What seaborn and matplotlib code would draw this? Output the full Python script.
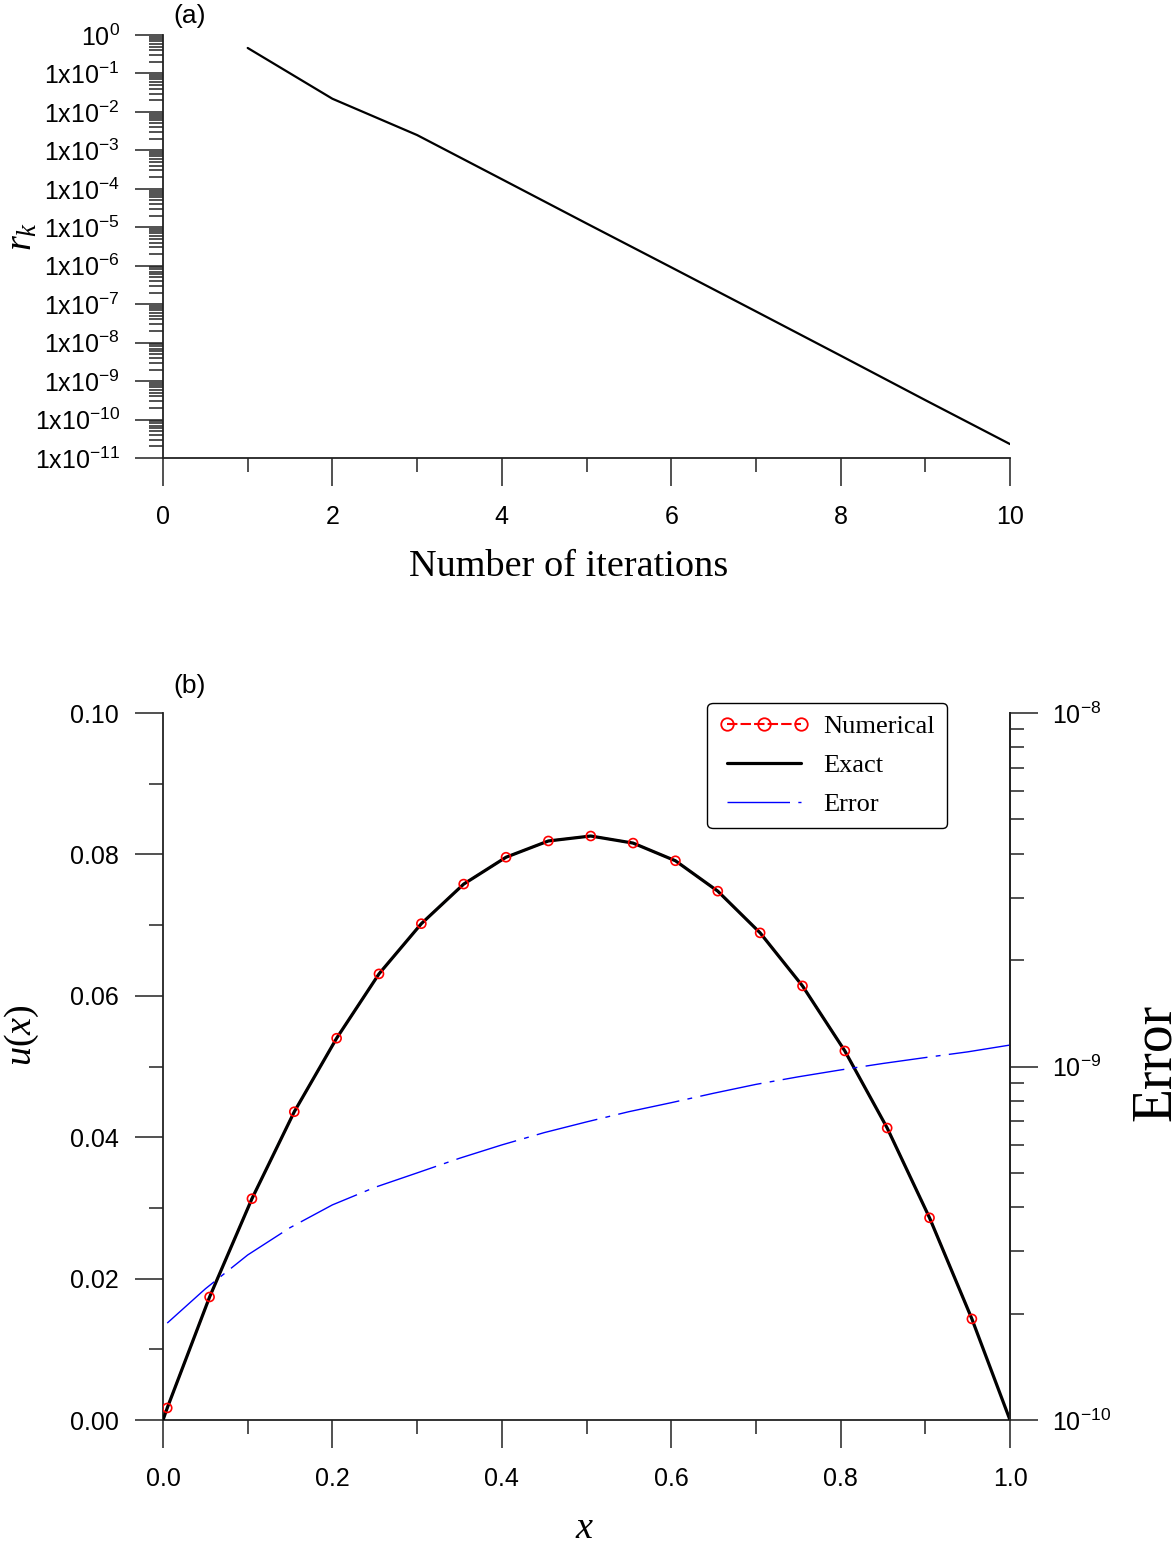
import numpy as np
import pandas as pd
import matplotlib
matplotlib.use("Agg")
import matplotlib.pyplot as plt
import seaborn as sns
from matplotlib.ticker import (LogLocator, FuncFormatter, MultipleLocator,
                               NullFormatter, FormatStrFormatter, LogFormatterSciNotation)
from matplotlib.lines import Line2D

# ---------------- data ----------------
iterations = [1, 2, 3, 4, 5, 6, 7, 8, 9, 10]
residuals = [4.6e-1, 2.2e-2, 2.5e-3, 1.78e-4, 1.26e-5, 9.1e-7, 6.5e-8, 4.6e-9, 3.2e-10, 2.3e-11]

x_num = [0.005, 0.055, 0.105, 0.155, 0.205, 0.255, 0.305, 0.355, 0.405, 0.455,
         0.505, 0.555, 0.605, 0.655, 0.705, 0.755, 0.805, 0.855, 0.905, 0.955]
u_num = [0.0017, 0.0174, 0.0313, 0.0436, 0.0540, 0.0631, 0.0702, 0.0758, 0.0796, 0.0819,
         0.0826, 0.0816, 0.0791, 0.0748, 0.0689, 0.0614, 0.0522, 0.0413, 0.0286, 0.0143]

x_exact = [0.0, 0.005, 0.055, 0.105, 0.155, 0.205, 0.255, 0.305, 0.355, 0.405, 0.455,
           0.505, 0.555, 0.605, 0.655, 0.705, 0.755, 0.805, 0.855, 0.905, 0.955, 1.0]
u_exact = [0.0, 0.0017, 0.0174, 0.0313, 0.0436, 0.0540, 0.0631, 0.0702, 0.0758, 0.0796, 0.0819,
           0.0826, 0.0816, 0.0791, 0.0748, 0.0689, 0.0614, 0.0522, 0.0413, 0.0286, 0.0143, 0.0]

x_err = [0.005, 0.05, 0.1, 0.15, 0.2, 0.25, 0.3, 0.35, 0.4, 0.45, 0.5,
         0.55, 0.6, 0.65, 0.7, 0.75, 0.8, 0.85, 0.9, 0.95, 1.0]
err = [1.88e-10, 2.35e-10, 2.93e-10, 3.5e-10, 4.06e-10, 4.55e-10, 5.0e-10, 5.5e-10, 6.0e-10,
       6.5e-10, 6.97e-10, 7.45e-10, 7.9e-10, 8.4e-10, 8.9e-10, 9.35e-10, 9.78e-10, 1.02e-9,
       1.06e-9, 1.10e-9, 1.15e-9]

# ---------------- style ----------------
sns.set_theme(style="ticks")
plt.rcParams.update({
    "font.family": ["Liberation Sans", "DejaVu Sans"],
    "text.color": "black",
    "mathtext.fontset": "custom",
    "mathtext.rm": "Liberation Serif",
    "mathtext.it": "Liberation Serif:italic",
    "mathtext.default": "regular",
    "axes.edgecolor": "#222222",
    "axes.linewidth": 1.3,
    "xtick.color": "#222222",
    "ytick.color": "#222222",
    "xtick.labelcolor": "black",
    "ytick.labelcolor": "black",
    "xtick.direction": "out",
    "ytick.direction": "out",
    "xtick.major.size": 20, "xtick.minor.size": 10,
    "ytick.major.size": 20, "ytick.minor.size": 10,
    "xtick.major.width": 1.1, "xtick.minor.width": 1.1,
    "ytick.major.width": 1.1, "ytick.minor.width": 1.1,
    "xtick.labelsize": 18, "ytick.labelsize": 18,
    "axes.unicode_minus": False,
})

W, H = 1175, 1543
fig = plt.figure(figsize=(W / 100, H / 100), dpi=100)

def fx(px):
    return px / W

def fy(py):
    return 1 - py / H

# ---------------- panel (a) ----------------
ax1 = fig.add_axes([fx(163), fy(458), fx(1010) - fx(163), fy(35) - fy(458)])
df_a = pd.DataFrame({"it": iterations, "r": residuals})
sns.lineplot(data=df_a, x="it", y="r", ax=ax1, color="black", linewidth=1.6)
ax1.set_yscale("log")
ax1.set_xlim(0, 10)
ax1.set_ylim(1e-11, 1)
ax1.xaxis.set_major_locator(MultipleLocator(2))
ax1.xaxis.set_minor_locator(MultipleLocator(1))
ax1.yaxis.set_major_locator(LogLocator(base=10, numticks=30))
ax1.yaxis.set_minor_locator(LogLocator(base=10, subs=np.arange(2, 10), numticks=200))
ax1.yaxis.set_minor_formatter(NullFormatter())

def fmt_a(v, pos):
    e = int(round(np.log10(v)))
    if e == 0:
        return r"$\mathdefault{10^{0}}$"
    return r"$\mathdefault{1x10^{%d}}$" % e

ax1.yaxis.set_major_formatter(FuncFormatter(fmt_a))
ax1.tick_params(axis="x", pad=14)
ax1.tick_params(axis="y", pad=11)
ax1.spines["top"].set_visible(False)
ax1.spines["right"].set_visible(False)
ax1.set_xlabel("")
ax1.set_ylabel("")

# ---------------- panel (b) ----------------
ax2 = fig.add_axes([fx(163), fy(1420), fx(1010) - fx(163), fy(713) - fy(1420)])
df_num = pd.DataFrame({"x": x_num, "u": u_num})
df_ex = pd.DataFrame({"x": x_exact, "u": u_exact})
df_err = pd.DataFrame({"x": x_err, "e": err})

sns.lineplot(data=df_num, x="x", y="u", ax=ax2, color="red", linewidth=1.5,
             linestyle="--", zorder=2)
sns.lineplot(data=df_ex, x="x", y="u", ax=ax2, color="black", linewidth=2.3, zorder=3)
sns.scatterplot(data=df_num, x="x", y="u", ax=ax2, marker="o", s=42,
                facecolors="none", edgecolor="red", linewidth=1.2, zorder=4)
ax2.set_xlim(0, 1.0)
ax2.set_ylim(0, 0.10)
ax2.xaxis.set_major_locator(MultipleLocator(0.2))
ax2.xaxis.set_minor_locator(MultipleLocator(0.1))
ax2.yaxis.set_major_locator(MultipleLocator(0.02))
ax2.yaxis.set_minor_locator(MultipleLocator(0.01))
ax2.xaxis.set_major_formatter(FormatStrFormatter("%.1f"))
ax2.yaxis.set_major_formatter(FormatStrFormatter("%.2f"))
ax2.tick_params(axis="x", pad=14)
ax2.tick_params(axis="y", pad=12)
ax2.spines["top"].set_visible(False)
ax2.set_xlabel("")
ax2.set_ylabel("")

ax3 = ax2.twinx()
sns.lineplot(data=df_err, x="x", y="e", ax=ax3, color="#0000ff", linewidth=1.0)
for ln in ax3.get_lines():
    ln.set_dashes((45, 6, 3.5, 6))
ax3.set_yscale("log")
ax3.set_ylim(1e-10, 1e-8)
ax3.set_xlim(0, 1.0)
ax3.yaxis.set_major_locator(LogLocator(base=10, numticks=10))
ax3.yaxis.set_minor_locator(LogLocator(base=10, subs=np.arange(2, 10), numticks=100))
ax3.yaxis.set_major_formatter(LogFormatterSciNotation())
ax3.yaxis.set_minor_formatter(NullFormatter())
ax3.tick_params(axis="y", pad=10)
for s in ["top", "left", "bottom"]:
    ax3.spines[s].set_visible(False)
ax3.set_ylabel("")
ax3.set_xlabel("")

handles = [
    Line2D([], [], color="red", linestyle=(0, (5, 1.5)), linewidth=1.5, marker="o",
           markerfacecolor="none", markeredgecolor="red", markersize=9, markeredgewidth=1.3),
    Line2D([], [], color="black", linewidth=2.3),
    Line2D([], [], color="#0000ff", linewidth=1.0, dashes=(45, 6, 3.5, 6)),
]
leg = ax3.legend(handles, ["Numerical", "Exact", "Error"], loc="upper right",
                 bbox_to_anchor=(0.9256, 1.014), borderaxespad=0, numpoints=3,
                 prop={"family": "Liberation Serif", "size": 19},
                 handlelength=3.4, handletextpad=0.55, labelspacing=0.58,
                 borderpad=0.45, frameon=True, fancybox=True, framealpha=1,
                 edgecolor="black")
leg.get_frame().set_linewidth(1.0)
for t in leg.get_texts():
    t.set_color("black")

# ---------------- text labels ----------------
fig.text(fx(569), fy(567), "Number of iterations", family="Liberation Serif",
         fontsize=27.5, ha="center", va="center")
fig.text(fx(22), fy(236), r"$\mathit{r_k}$", fontsize=27.5, ha="center", va="center",
         rotation=90)
fig.text(fx(190), fy(16), "(a)", fontsize=19, ha="center", va="center")
fig.text(fx(190), fy(686), "(b)", fontsize=19, ha="center", va="center")
fig.text(fx(22), fy(1035), r"$\mathit{u}\mathrm{(}\mathit{x}\mathrm{)}$", fontsize=27.5,
         ha="center", va="center", rotation=90)
fig.text(fx(585), fy(1528), r"$\mathit{x}$", fontsize=27.5, ha="center", va="center")
fig.text(fx(1156), fy(1062), "Error", family="Liberation Serif", fontsize=40,
         ha="center", va="center", rotation=90)

fig.savefig("out.png", dpi=100)
